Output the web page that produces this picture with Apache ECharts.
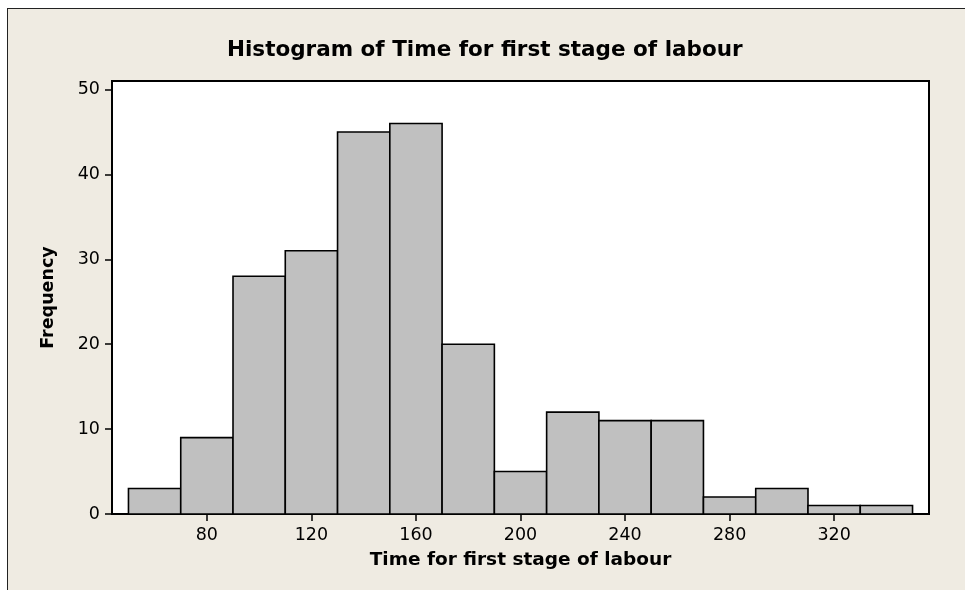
<!DOCTYPE html>
<html>
<head>
<meta charset="utf-8">
<script src="https://cdn.jsdelivr.net/npm/echarts@6/dist/echarts.min.js"></script>
<style>
  html, body { margin: 0; padding: 0; background: #ffffff; }
  #frame { position: absolute; left: 7px; top: 8px; width: 958px; height: 582px;
           background: #EFEBE2; border-top: 1.5px solid #222; border-left: 1.5px solid #222; box-sizing: border-box; }
  #chart { position: absolute; left: 0; top: 0; width: 965px; height: 590px; }
</style>
</head>
<body>
<div id="frame"></div>
<div id="chart"></div>
<script>
// Histogram bins (edges) and frequencies
var binStarts = [50, 70, 90, 110, 130, 150, 170, 190, 210, 230, 250, 270, 290, 310, 330];
var binEnds   = [70, 90, 110, 130, 150, 170, 190, 210, 230, 250, 270, 290, 310, 330, 350];
var counts    = [3, 9, 28, 31, 45, 46, 20, 5, 12, 11, 11, 2, 3, 1, 1];
var xTicks    = [80, 120, 160, 200, 240, 280, 320];
var yTicks    = [0, 10, 20, 30, 40, 50];

var titleText = 'Histogram of Time for first stage of labour';
var xName = 'Time for first stage of labour';
var yName = 'Frequency';

var data = binStarts.map(function (s, i) { return [s, binEnds[i], counts[i]]; });

var chart = echarts.init(document.getElementById('chart'), null, { renderer: 'canvas' });
var FONT = 'DejaVu Sans';
chart.setOption({
  backgroundColor: 'transparent',
  animation: false,
  title: {
    text: titleText,
    left: 227, top: 39, padding: 0,
    textStyle: { fontFamily: FONT, fontWeight: 'bold', fontSize: 21.5, color: '#000' }
  },
  grid: {
    left: 112, right: 36, top: 81, bottom: 76,
    show: true, backgroundColor: '#ffffff', borderColor: '#000', borderWidth: 2
  },
  xAxis: {
    type: 'value', min: 43.7, max: 356.3,
    name: xName, nameLocation: 'middle', nameGap: 37,
    nameTextStyle: { fontFamily: FONT, fontWeight: 'bold', fontSize: 18.5, color: '#000' },
    axisLine: { show: true, onZero: false, lineStyle: { color: '#000', width: 2 } },
    axisTick: { show: true, length: 7, customValues: xTicks, lineStyle: { color: '#000', width: 1.5 } },
    axisLabel: { customValues: xTicks, margin: 12, fontFamily: FONT, fontSize: 17.5, color: '#000' },
    splitLine: { show: false }
  },
  yAxis: {
    type: 'value', min: 0, max: 51,
    name: yName, nameLocation: 'middle', nameGap: 55,
    nameTextStyle: { fontFamily: FONT, fontWeight: 'bold', fontSize: 17.5, color: '#000' },
    axisLine: { show: true, lineStyle: { color: '#000', width: 2 } },
    axisTick: { show: true, length: 7, customValues: yTicks, lineStyle: { color: '#000', width: 1.5 } },
    axisLabel: { customValues: yTicks, margin: 12, fontFamily: FONT, fontSize: 17.5, color: '#000' },
    splitLine: { show: false }
  },
  series: [{
    type: 'custom',
    data: data,
    encode: { x: [0, 1], y: 2 },
    renderItem: function (params, api) {
      var p0 = api.coord([api.value(0), api.value(2)]);
      var p1 = api.coord([api.value(1), 0]);
      return {
        type: 'rect',
        shape: { x: p0[0], y: p0[1], width: p1[0] - p0[0], height: p1[1] - p0[1] },
        style: { fill: '#C0C0C0', stroke: '#000', lineWidth: 1.6 }
      };
    }
  }]
});
</script>
</body>
</html>
